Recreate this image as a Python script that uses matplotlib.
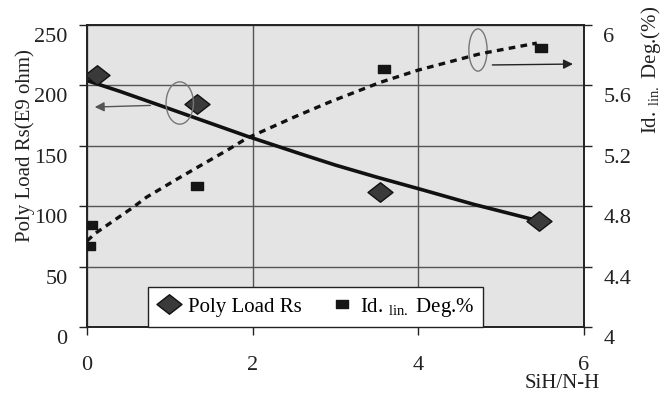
import matplotlib
matplotlib.use("Agg")
import matplotlib.pyplot as plt
import matplotlib.transforms as mtransforms
from matplotlib.patches import Ellipse
from matplotlib.path import Path
import numpy as np

plt.rcParams['font.family'] = ['Liberation Serif', 'DejaVu Serif']
plt.rcParams['mathtext.fontset'] = 'custom'
plt.rcParams['mathtext.rm'] = 'Liberation Serif'

# data
rs_x = [0.12, 1.33, 3.54, 5.46]
rs_y = [208.5, 184.5, 111.7, 87.7]
rs_trend_x = [0.0, 0.4, 0.92, 1.93, 2.57, 3.0, 3.5, 4.0, 4.67, 5.46]
rs_trend_y = [204, 195, 182.5, 158, 143.5, 134, 124, 114.5, 101.5, 87.7]

deg_x = [0.02, 0.05, 1.33, 3.59, 5.48]
deg_y = [4.536, 4.675, 4.934, 5.71, 5.85]
deg_trend_x = [0.0, 0.1, 0.55, 0.72, 1.12, 1.69, 1.93, 2.5, 2.93, 3.54, 3.99, 4.75, 5.43]
deg_trend_y = [4.57, 4.62, 4.79, 4.86, 4.99, 5.17, 5.25, 5.39, 5.49, 5.62, 5.70, 5.81, 5.88]

x_ticks = [0, 2, 4, 6]
left_ticks = [0, 50, 100, 150, 200, 250]
right_ticks = [4, 4.4, 4.8, 5.2, 5.6, 6]
right_labels = ['4', '4.4', '4.8', '5.2', '5.6', '6']

diamond = Path([(-1, 0), (0, 0.78), (1, 0), (0, -0.78), (-1, 0)],
               [Path.MOVETO, Path.LINETO, Path.LINETO, Path.LINETO, Path.CLOSEPOLY])
rect = Path([(-1, -0.6), (1, -0.6), (1, 0.6), (-1, 0.6), (-1, -0.6)],
            [Path.MOVETO, Path.LINETO, Path.LINETO, Path.LINETO, Path.CLOSEPOLY])

fig = plt.figure(figsize=(6.62, 3.95), dpi=100)
ax = fig.add_axes([0.1314, 0.1722, 0.7508, 0.7645])
ax2 = ax.twinx()

ax.set_facecolor('#e4e4e4')
ax.set_xlim(0, 6)
ax.set_ylim(0, 250)
ax2.set_ylim(4, 6)
ax.set_xticks(x_ticks)
ax.set_yticks(left_ticks)
ax2.set_yticks(right_ticks)
ax2.set_yticklabels(right_labels)

ax.grid(True, color='#555555', lw=1.0)
ax.set_axisbelow(True)

for a in (ax, ax2):
    a.tick_params(labelsize=16, length=6, width=1, colors='#222222', pad=8)
    for s in a.spines.values():
        s.set_color('#222222')
        s.set_linewidth(1.2)
ax.tick_params(axis='x', pad=15)

# tick labels sit a little below their gridlines in the original
shift = mtransforms.ScaledTranslation(0, -10 / 100, fig.dpi_scale_trans)
for lab in ax.get_yticklabels() + ax2.get_yticklabels():
    lab.set_transform(lab.get_transform() + shift)

h1, = ax.plot(rs_x, rs_y, linestyle='none', marker=diamond, markersize=18,
              markerfacecolor='#3a3a3a', markeredgecolor='#111111', zorder=4,
              label='Poly Load Rs')
ax.plot(rs_trend_x, rs_trend_y, color='#111111', lw=2.6, zorder=3,
        solid_capstyle='round', solid_joinstyle='round')

ax2.plot(deg_trend_x, deg_trend_y, color='#111111', lw=2.4, dashes=(2.0, 1.6),
         zorder=3)
h2, = ax2.plot(deg_x, deg_y, linestyle='none', marker=rect, markersize=9,
               markerfacecolor='#151515', markeredgecolor='#151515', zorder=4,
               label=r'Id. $_{\mathrm{lin.}}$ Deg.%')

# ellipses and arrows pointing at each axis
ax.add_patch(Ellipse((1.12, 185.4), 0.33, 35, fill=False, ec='#777777', lw=1, zorder=5))
ax.annotate('', xy=(0.06, 182), xytext=(0.8, 183.5),
            arrowprops=dict(arrowstyle='-|>', color='#555555', lw=1, mutation_scale=14),
            zorder=5)
ax.add_patch(Ellipse((4.72, 229.3), 0.22, 35, fill=False, ec='#777777', lw=1, zorder=5))
ax.annotate('', xy=(5.9, 217.7), xytext=(4.86, 216.9),
            arrowprops=dict(arrowstyle='-|>', color='#222222', lw=1, mutation_scale=14),
            zorder=5, annotation_clip=False)

ax.set_ylabel('Poly Load Rs(E9 ohm)', fontsize=15, color='#222222')
ax2.set_ylabel(r'Id. $_{\mathrm{lin.}}$ Deg.(%)', fontsize=15, color='#222222')
ax2.yaxis.set_label_coords(1.11, 0.85)
ax.yaxis.set_label_coords(-0.105, 0.6)
fig.text(0.85, 0.004, 'SiH/N-H', fontsize=15, color='#222222', ha='center', va='bottom')

leg = ax2.legend(handles=[h1, h2], loc='lower left', ncol=2,
                 bbox_to_anchor=(0.123, 0.0, 0.674, 0.13), mode='expand',
                 borderaxespad=0, fontsize=15, frameon=True, fancybox=False,
                 borderpad=0.4, handletextpad=0.3, columnspacing=1.0,
                 handlelength=1.2)
leg.get_frame().set_edgecolor('#222222')
leg.get_frame().set_linewidth(1)
leg.get_frame().set_facecolor('white')
leg.get_frame().set_alpha(1)
leg.set_zorder(10)

fig.savefig('out.png', dpi=100)
